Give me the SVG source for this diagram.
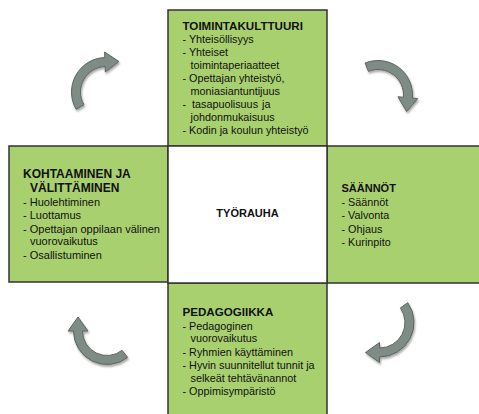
<svg xmlns="http://www.w3.org/2000/svg" width="479" height="414" viewBox="0 0 479 414">
<defs>
<style>
.box{fill:#a9d06f;stroke:#333;stroke-width:1.5}
.ctr{fill:#fff;stroke:#333;stroke-width:1.5}
text{font-family:"Liberation Sans",Arial,sans-serif;font-size:10.8px;fill:#111}
.h{font-weight:bold;font-size:11.6px}
.l{font-size:11px}
.lh{font-weight:bold;font-size:12px}
.arrow{fill:#7f8b85;stroke:#5a6560;stroke-width:1;filter:url(#sh)}
</style>
<filter id="sh" x="-20%" y="-20%" width="150%" height="150%">
<feGaussianBlur in="SourceAlpha" stdDeviation="1.2"/>
<feOffset dx="1" dy="2" result="b"/>
<feComponentTransfer><feFuncA type="linear" slope="0.35"/></feComponentTransfer>
<feMerge><feMergeNode/><feMergeNode in="SourceGraphic"/></feMerge>
</filter>
</defs>
<g id="connectors">
<path class="arrow" d="M76.12,109.25 A34.5,34.5 0 0 1 104.80,57.52 L104.60,52.02 L118.94,61.53 L105.30,72.01 L105.11,66.52 A25.5,25.5 0 0 0 83.92,104.75 Z"/>
<path class="arrow" d="M365.08,63.01 A34.5,34.5 0 0 1 412.37,98.01 L417.85,98.49 L406.67,111.57 L397.92,96.74 L403.40,97.22 A25.5,25.5 0 0 0 368.45,71.36 Z"/>
<path class="arrow" d="M407.76,302.71 A34.5,34.5 0 0 1 379.5,357 L379.5,362.5 L365.5,352.5 L379.5,342.5 L379.5,348 A25.5,25.5 0 0 0 400.39,307.87 Z"/>
<path class="arrow" d="M127.63,357.40 A33.5,33.5 0 0 1 73.5,331 L68,331 L78,317 L88,331 L82.5,331 A24.5,24.5 0 0 0 122.08,350.31 Z"/>
</g>
<g id="toimintakulttuuri">
<rect class="box" x="168" y="10" width="159" height="136"/>
<text class="h" x="182.5" y="30">TOIMINTAKULTTUURI</text>
<text x="182.5" y="42.5">- Yhteisöllisyys</text>
<text x="182.5" y="56">- Yhteiset</text>
<text x="190.5" y="68.5">toimintaperiaatteet</text>
<text x="182.5" y="82">- Opettajan yhteistyö,</text>
<text x="190.5" y="94.5">moniasiantuntijuus</text>
<text x="182.5" y="108">-</text>
<text x="192" y="108">tasapuolisuus</text>
<text x="262" y="108">ja</text>
<text x="190.5" y="121">johdonmukaisuus</text>
<text x="182.5" y="134">- Kodin ja koulun yhteistyö</text>
</g>
<g id="kohtaaminen">
<rect class="box" x="9" y="146" width="159" height="136"/>
<text class="lh" x="23" y="178">KOHTAAMINEN JA</text>
<text class="lh" x="30" y="192">VÄLITTÄMINEN</text>
<text class="l" x="23" y="206">- Huolehtiminen</text>
<text class="l" x="23" y="219">- Luottamus</text>
<text class="l" x="23" y="232.5">- Opettajan oppilaan välinen</text>
<text class="l" x="30" y="245">vuorovaikutus</text>
<text class="l" x="23" y="258.5">- Osallistuminen</text>
</g>
<g id="saannot">
<rect class="box" x="327" y="146" width="160" height="137"/>
<text class="h" x="341.5" y="192" style="font-size:11px">SÄÄNNÖT</text>
<text x="341.5" y="205.5">- Säännöt</text>
<text x="341.5" y="219">- Valvonta</text>
<text x="341.5" y="232.5">- Ohjaus</text>
<text x="341.5" y="246">- Kurinpito</text>
</g>
<g id="pedagogiikka">
<rect class="box" x="168" y="283" width="159" height="140"/>
<text class="h" x="182.5" y="316">PEDAGOGIIKKA</text>
<text x="182.5" y="329.5">- Pedagoginen</text>
<text x="190.5" y="342">vuorovaikutus</text>
<text x="182.5" y="355.5">- Ryhmien käyttäminen</text>
<text x="182.5" y="369">- Hyvin suunnitellut tunnit ja</text>
<text x="190.5" y="381.5">selkeät tehtävänannot</text>
<text x="182.5" y="395">- Oppimisympäristö</text>
</g>
<g id="tyorauha">
<rect class="ctr" x="168" y="146" width="159" height="137"/>
<text class="h" x="247.5" y="217" text-anchor="middle" style="font-size:11px">TYÖRAUHA</text>
</g>
</svg>
